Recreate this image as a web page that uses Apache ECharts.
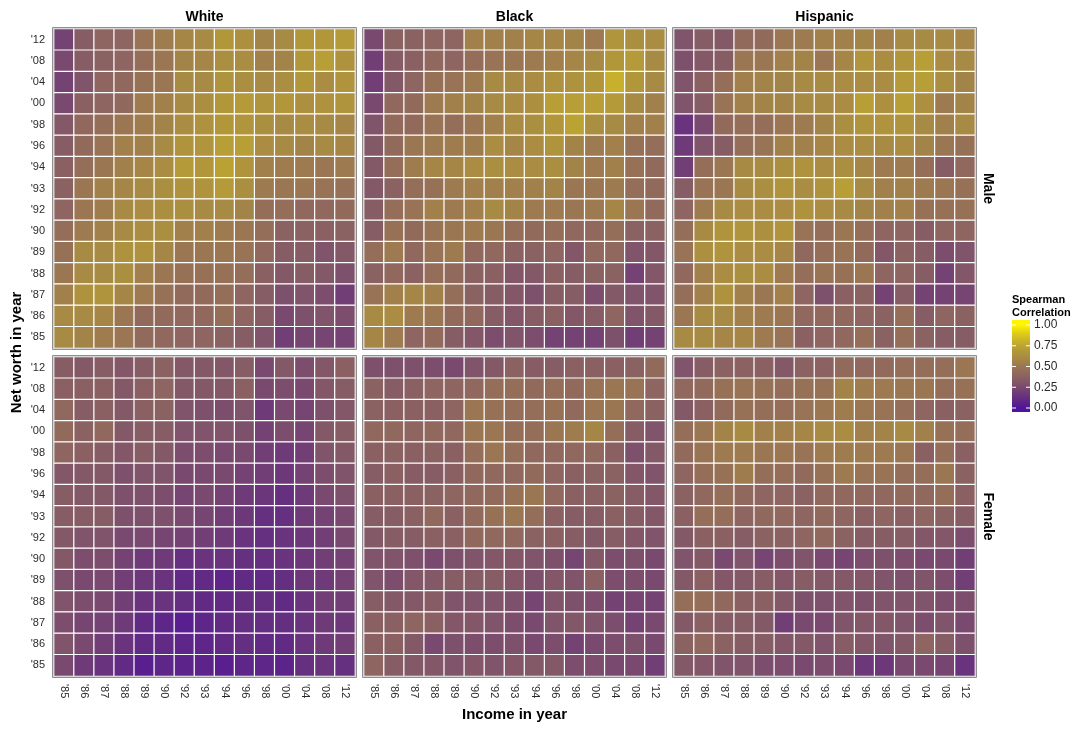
<!DOCTYPE html>
<html>
<head>
<meta charset="utf-8">
<script src="https://cdn.jsdelivr.net/npm/echarts@6/dist/echarts.min.js"></script>
<style>
  html, body { margin: 0; padding: 0; background: #fff; }
  #chart { width: 1081px; height: 729px; }
</style>
</head>
<body>
<div id="chart"></div>
<script>
// Survey years used on both axes (income year on x, net worth year on y)
const years = ["'85", "'86", "'87", "'88", "'89", "'90", "'92", "'93", "'94", "'96", "'98", "'00", "'04", "'08", "'12"];
const raceGroups = ["White", "Black", "Hispanic"];
const sexGroups = ["Male", "Female"];
const legendTicks = [0, 0.25, 0.5, 0.75, 1];

// Spearman correlations. Each matrix row is one net worth year,
// listed from '12 (top) down to '85 (bottom); columns run '85 -> '12 income year.
const whiteMale = [
  [0.22, 0.35, 0.40, 0.40, 0.48, 0.53, 0.58, 0.60, 0.68, 0.64, 0.57, 0.60, 0.68, 0.68, 0.70],
  [0.25, 0.35, 0.38, 0.40, 0.45, 0.50, 0.57, 0.58, 0.63, 0.62, 0.55, 0.57, 0.68, 0.72, 0.65],
  [0.22, 0.30, 0.40, 0.42, 0.47, 0.50, 0.60, 0.60, 0.66, 0.63, 0.60, 0.63, 0.68, 0.62, 0.66],
  [0.25, 0.37, 0.40, 0.42, 0.52, 0.55, 0.60, 0.63, 0.68, 0.70, 0.66, 0.68, 0.64, 0.65, 0.66],
  [0.33, 0.42, 0.45, 0.50, 0.53, 0.57, 0.62, 0.65, 0.68, 0.67, 0.63, 0.60, 0.62, 0.60, 0.58],
  [0.35, 0.43, 0.48, 0.55, 0.55, 0.60, 0.66, 0.67, 0.72, 0.72, 0.62, 0.60, 0.57, 0.60, 0.58],
  [0.37, 0.45, 0.50, 0.55, 0.58, 0.62, 0.70, 0.68, 0.73, 0.66, 0.55, 0.53, 0.52, 0.50, 0.52],
  [0.38, 0.50, 0.55, 0.58, 0.60, 0.63, 0.65, 0.66, 0.70, 0.63, 0.52, 0.50, 0.50, 0.48, 0.47],
  [0.40, 0.50, 0.53, 0.60, 0.62, 0.63, 0.63, 0.60, 0.60, 0.57, 0.45, 0.45, 0.42, 0.42, 0.43],
  [0.45, 0.52, 0.55, 0.60, 0.62, 0.63, 0.55, 0.55, 0.52, 0.50, 0.45, 0.38, 0.38, 0.37, 0.38],
  [0.47, 0.60, 0.60, 0.65, 0.65, 0.58, 0.50, 0.50, 0.50, 0.48, 0.42, 0.35, 0.35, 0.30, 0.33],
  [0.50, 0.60, 0.60, 0.63, 0.55, 0.50, 0.47, 0.47, 0.47, 0.45, 0.37, 0.33, 0.35, 0.33, 0.28],
  [0.55, 0.65, 0.66, 0.58, 0.52, 0.47, 0.43, 0.43, 0.45, 0.40, 0.35, 0.28, 0.30, 0.27, 0.20],
  [0.60, 0.60, 0.58, 0.50, 0.43, 0.43, 0.42, 0.42, 0.45, 0.40, 0.35, 0.25, 0.28, 0.30, 0.27],
  [0.60, 0.57, 0.53, 0.50, 0.43, 0.42, 0.40, 0.40, 0.38, 0.35, 0.30, 0.20, 0.23, 0.23, 0.22]
];

const blackMale = [
  [0.25, 0.38, 0.38, 0.40, 0.40, 0.55, 0.55, 0.55, 0.58, 0.58, 0.57, 0.52, 0.67, 0.63, 0.62],
  [0.20, 0.35, 0.37, 0.42, 0.40, 0.45, 0.48, 0.50, 0.52, 0.55, 0.58, 0.60, 0.68, 0.70, 0.60],
  [0.20, 0.33, 0.40, 0.47, 0.48, 0.52, 0.60, 0.60, 0.62, 0.65, 0.65, 0.68, 0.80, 0.68, 0.60],
  [0.25, 0.42, 0.43, 0.52, 0.55, 0.57, 0.60, 0.62, 0.64, 0.72, 0.72, 0.72, 0.70, 0.60, 0.55],
  [0.30, 0.43, 0.43, 0.48, 0.45, 0.50, 0.55, 0.62, 0.63, 0.68, 0.74, 0.63, 0.60, 0.55, 0.55],
  [0.33, 0.43, 0.50, 0.52, 0.53, 0.53, 0.62, 0.58, 0.62, 0.66, 0.57, 0.52, 0.55, 0.47, 0.45],
  [0.33, 0.45, 0.53, 0.58, 0.58, 0.62, 0.63, 0.62, 0.62, 0.63, 0.57, 0.52, 0.55, 0.47, 0.43],
  [0.33, 0.38, 0.45, 0.47, 0.52, 0.55, 0.55, 0.55, 0.55, 0.57, 0.50, 0.50, 0.52, 0.45, 0.43],
  [0.35, 0.45, 0.48, 0.55, 0.52, 0.55, 0.60, 0.57, 0.52, 0.52, 0.50, 0.52, 0.58, 0.50, 0.43],
  [0.35, 0.47, 0.43, 0.48, 0.50, 0.52, 0.50, 0.45, 0.43, 0.45, 0.42, 0.42, 0.45, 0.38, 0.38],
  [0.45, 0.52, 0.42, 0.48, 0.52, 0.42, 0.42, 0.38, 0.38, 0.40, 0.32, 0.42, 0.42, 0.30, 0.32],
  [0.38, 0.42, 0.38, 0.45, 0.43, 0.38, 0.37, 0.32, 0.33, 0.37, 0.35, 0.38, 0.38, 0.22, 0.32],
  [0.48, 0.55, 0.58, 0.55, 0.45, 0.38, 0.35, 0.32, 0.28, 0.35, 0.35, 0.27, 0.33, 0.30, 0.30],
  [0.60, 0.62, 0.52, 0.50, 0.43, 0.42, 0.35, 0.32, 0.35, 0.37, 0.32, 0.35, 0.40, 0.30, 0.33],
  [0.58, 0.52, 0.40, 0.43, 0.35, 0.32, 0.27, 0.30, 0.27, 0.22, 0.22, 0.22, 0.28, 0.20, 0.22]
];

const hispanicMale = [
  [0.30, 0.35, 0.33, 0.43, 0.43, 0.50, 0.52, 0.55, 0.55, 0.57, 0.55, 0.60, 0.60, 0.60, 0.58],
  [0.28, 0.33, 0.35, 0.50, 0.50, 0.55, 0.57, 0.50, 0.58, 0.67, 0.62, 0.67, 0.72, 0.62, 0.60],
  [0.30, 0.37, 0.45, 0.55, 0.57, 0.57, 0.60, 0.60, 0.62, 0.62, 0.62, 0.70, 0.72, 0.63, 0.57],
  [0.30, 0.35, 0.48, 0.55, 0.57, 0.57, 0.60, 0.60, 0.62, 0.72, 0.64, 0.72, 0.64, 0.52, 0.57],
  [0.15, 0.25, 0.43, 0.45, 0.45, 0.50, 0.52, 0.57, 0.63, 0.66, 0.66, 0.66, 0.60, 0.55, 0.60],
  [0.18, 0.30, 0.35, 0.45, 0.48, 0.55, 0.55, 0.58, 0.62, 0.62, 0.60, 0.62, 0.57, 0.50, 0.47],
  [0.20, 0.45, 0.50, 0.60, 0.60, 0.63, 0.65, 0.62, 0.63, 0.58, 0.52, 0.52, 0.45, 0.35, 0.42],
  [0.35, 0.48, 0.50, 0.60, 0.63, 0.66, 0.62, 0.65, 0.72, 0.60, 0.55, 0.55, 0.52, 0.50, 0.47],
  [0.40, 0.52, 0.60, 0.62, 0.62, 0.62, 0.65, 0.62, 0.60, 0.57, 0.55, 0.55, 0.47, 0.47, 0.47],
  [0.45, 0.60, 0.66, 0.66, 0.64, 0.66, 0.48, 0.45, 0.50, 0.45, 0.40, 0.40, 0.35, 0.40, 0.40],
  [0.48, 0.64, 0.66, 0.62, 0.62, 0.58, 0.42, 0.45, 0.48, 0.43, 0.32, 0.38, 0.35, 0.27, 0.30],
  [0.42, 0.55, 0.62, 0.63, 0.62, 0.52, 0.45, 0.48, 0.47, 0.50, 0.40, 0.40, 0.35, 0.22, 0.32],
  [0.45, 0.55, 0.65, 0.55, 0.50, 0.55, 0.40, 0.28, 0.37, 0.38, 0.22, 0.35, 0.22, 0.22, 0.23],
  [0.50, 0.60, 0.60, 0.55, 0.52, 0.50, 0.42, 0.42, 0.42, 0.40, 0.38, 0.45, 0.35, 0.40, 0.38],
  [0.60, 0.60, 0.58, 0.58, 0.52, 0.48, 0.37, 0.40, 0.42, 0.45, 0.38, 0.45, 0.38, 0.35, 0.35]
];

const whiteFemale = [
  [0.35, 0.33, 0.35, 0.32, 0.35, 0.38, 0.33, 0.33, 0.32, 0.35, 0.25, 0.33, 0.27, 0.32, 0.37],
  [0.37, 0.37, 0.37, 0.33, 0.37, 0.40, 0.33, 0.33, 0.33, 0.37, 0.25, 0.27, 0.25, 0.32, 0.35],
  [0.42, 0.35, 0.37, 0.33, 0.37, 0.38, 0.30, 0.28, 0.27, 0.30, 0.18, 0.25, 0.23, 0.28, 0.32],
  [0.43, 0.38, 0.42, 0.33, 0.35, 0.35, 0.30, 0.30, 0.30, 0.28, 0.22, 0.27, 0.23, 0.33, 0.35],
  [0.40, 0.37, 0.35, 0.32, 0.35, 0.33, 0.27, 0.27, 0.25, 0.25, 0.20, 0.18, 0.20, 0.30, 0.33],
  [0.32, 0.33, 0.33, 0.28, 0.30, 0.30, 0.25, 0.25, 0.25, 0.22, 0.20, 0.17, 0.22, 0.27, 0.30],
  [0.35, 0.33, 0.33, 0.28, 0.28, 0.27, 0.23, 0.25, 0.22, 0.18, 0.16, 0.13, 0.18, 0.25, 0.28],
  [0.35, 0.35, 0.35, 0.28, 0.28, 0.28, 0.25, 0.23, 0.20, 0.17, 0.13, 0.13, 0.18, 0.22, 0.25],
  [0.33, 0.30, 0.30, 0.25, 0.25, 0.23, 0.22, 0.20, 0.18, 0.15, 0.13, 0.15, 0.17, 0.20, 0.25],
  [0.33, 0.27, 0.27, 0.22, 0.18, 0.18, 0.13, 0.15, 0.15, 0.13, 0.13, 0.15, 0.17, 0.20, 0.22],
  [0.28, 0.25, 0.25, 0.20, 0.17, 0.15, 0.10, 0.10, 0.08, 0.10, 0.10, 0.12, 0.17, 0.18, 0.22],
  [0.30, 0.27, 0.25, 0.20, 0.15, 0.15, 0.12, 0.10, 0.10, 0.12, 0.12, 0.10, 0.15, 0.20, 0.20],
  [0.27, 0.23, 0.22, 0.18, 0.10, 0.08, 0.05, 0.08, 0.10, 0.12, 0.12, 0.12, 0.15, 0.18, 0.17],
  [0.30, 0.25, 0.20, 0.15, 0.10, 0.10, 0.08, 0.08, 0.10, 0.12, 0.10, 0.10, 0.15, 0.18, 0.20],
  [0.25, 0.18, 0.15, 0.10, 0.05, 0.08, 0.07, 0.07, 0.05, 0.08, 0.08, 0.07, 0.13, 0.15, 0.13]
];

const blackFemale = [
  [0.28, 0.28, 0.28, 0.27, 0.25, 0.30, 0.33, 0.38, 0.35, 0.35, 0.37, 0.37, 0.37, 0.38, 0.43],
  [0.38, 0.35, 0.37, 0.40, 0.40, 0.42, 0.45, 0.45, 0.43, 0.45, 0.43, 0.48, 0.50, 0.48, 0.40],
  [0.38, 0.37, 0.37, 0.37, 0.40, 0.50, 0.47, 0.45, 0.45, 0.47, 0.43, 0.50, 0.50, 0.42, 0.38],
  [0.42, 0.42, 0.40, 0.42, 0.42, 0.50, 0.50, 0.45, 0.45, 0.50, 0.53, 0.58, 0.45, 0.35, 0.30],
  [0.37, 0.38, 0.37, 0.38, 0.37, 0.45, 0.50, 0.45, 0.42, 0.42, 0.42, 0.42, 0.37, 0.28, 0.33],
  [0.35, 0.37, 0.35, 0.35, 0.37, 0.42, 0.42, 0.42, 0.43, 0.40, 0.37, 0.38, 0.38, 0.32, 0.30],
  [0.37, 0.37, 0.37, 0.38, 0.40, 0.42, 0.43, 0.47, 0.50, 0.42, 0.37, 0.37, 0.38, 0.35, 0.32],
  [0.35, 0.35, 0.37, 0.42, 0.37, 0.43, 0.47, 0.50, 0.45, 0.37, 0.35, 0.35, 0.37, 0.35, 0.32],
  [0.33, 0.35, 0.35, 0.37, 0.37, 0.42, 0.42, 0.42, 0.38, 0.37, 0.35, 0.33, 0.35, 0.32, 0.30],
  [0.30, 0.30, 0.28, 0.25, 0.28, 0.30, 0.32, 0.32, 0.30, 0.28, 0.23, 0.33, 0.27, 0.28, 0.25],
  [0.30, 0.27, 0.32, 0.33, 0.35, 0.35, 0.35, 0.32, 0.28, 0.32, 0.30, 0.37, 0.27, 0.27, 0.25],
  [0.35, 0.33, 0.33, 0.35, 0.30, 0.30, 0.30, 0.28, 0.23, 0.30, 0.28, 0.27, 0.22, 0.23, 0.22],
  [0.37, 0.37, 0.40, 0.37, 0.32, 0.32, 0.30, 0.27, 0.25, 0.30, 0.32, 0.30, 0.27, 0.22, 0.25],
  [0.37, 0.37, 0.33, 0.25, 0.28, 0.27, 0.27, 0.28, 0.25, 0.27, 0.22, 0.25, 0.27, 0.28, 0.25],
  [0.40, 0.35, 0.33, 0.32, 0.30, 0.32, 0.30, 0.32, 0.33, 0.33, 0.27, 0.27, 0.25, 0.25, 0.20]
];

const hispanicFemale = [
  [0.30, 0.35, 0.38, 0.38, 0.37, 0.33, 0.38, 0.38, 0.43, 0.42, 0.43, 0.45, 0.45, 0.45, 0.50],
  [0.42, 0.43, 0.47, 0.48, 0.47, 0.45, 0.47, 0.47, 0.57, 0.53, 0.52, 0.50, 0.50, 0.45, 0.47],
  [0.33, 0.37, 0.43, 0.47, 0.45, 0.45, 0.48, 0.50, 0.53, 0.50, 0.48, 0.45, 0.40, 0.37, 0.38],
  [0.45, 0.50, 0.57, 0.60, 0.55, 0.55, 0.58, 0.60, 0.62, 0.55, 0.57, 0.60, 0.55, 0.47, 0.45],
  [0.43, 0.48, 0.52, 0.52, 0.50, 0.50, 0.48, 0.52, 0.53, 0.52, 0.52, 0.50, 0.37, 0.45, 0.37],
  [0.40, 0.45, 0.47, 0.53, 0.45, 0.45, 0.43, 0.47, 0.52, 0.48, 0.48, 0.45, 0.45, 0.50, 0.38],
  [0.38, 0.42, 0.45, 0.42, 0.40, 0.40, 0.38, 0.42, 0.42, 0.42, 0.42, 0.43, 0.42, 0.45, 0.37],
  [0.37, 0.45, 0.45, 0.40, 0.42, 0.42, 0.40, 0.42, 0.40, 0.37, 0.40, 0.37, 0.40, 0.38, 0.35],
  [0.33, 0.37, 0.37, 0.35, 0.38, 0.38, 0.40, 0.42, 0.38, 0.35, 0.35, 0.35, 0.32, 0.32, 0.27],
  [0.30, 0.33, 0.25, 0.30, 0.23, 0.27, 0.30, 0.25, 0.23, 0.27, 0.28, 0.27, 0.25, 0.25, 0.20],
  [0.33, 0.37, 0.32, 0.33, 0.35, 0.32, 0.35, 0.33, 0.33, 0.32, 0.30, 0.28, 0.30, 0.27, 0.20],
  [0.45, 0.45, 0.42, 0.37, 0.37, 0.33, 0.28, 0.28, 0.30, 0.28, 0.30, 0.30, 0.30, 0.27, 0.27],
  [0.33, 0.37, 0.35, 0.35, 0.33, 0.20, 0.25, 0.25, 0.30, 0.32, 0.32, 0.30, 0.27, 0.30, 0.25],
  [0.38, 0.42, 0.38, 0.35, 0.35, 0.32, 0.33, 0.30, 0.35, 0.32, 0.30, 0.33, 0.40, 0.35, 0.28],
  [0.33, 0.32, 0.30, 0.30, 0.27, 0.27, 0.25, 0.27, 0.25, 0.17, 0.17, 0.25, 0.25, 0.23, 0.15]
];

// Panel matrices in facet order: rows = sex, columns = race
const panelData = [
  [whiteMale, blackMale, hispanicMale],
  [whiteFemale, blackFemale, hispanicFemale]
];

// Purple -> brown -> yellow fill scale, evenly spaced stops over [0, 1]
const fillStops = [
  '#50149a', '#612a84', '#713e75', '#80546a', '#8e6560',
  '#9b7652', '#a78a44', '#b49a38', '#c6b02c', '#e0cc18', '#fff500'
];

const FONT = '"Liberation Sans", Arial, Helvetica, sans-serif';

// Facet layout (pixels)
const panelLeft = 52, panelTop = 27, panelW = 305, panelH = 323, gapX = 5, gapY = 5, inset = 2;

const grids = [], xAxes = [], yAxes = [], series = [], graphics = [];

sexGroups.forEach(function (sex, r) {
  raceGroups.forEach(function (race, c) {
    const idx = r * raceGroups.length + c;
    const px = panelLeft + c * (panelW + gapX);
    const py = panelTop + r * (panelH + gapY);

    grids.push({
      left: px + inset, top: py + inset,
      width: panelW - 2 * inset, height: panelH - 2 * inset,
      containLabel: false
    });

    xAxes.push({
      type: 'category', gridIndex: idx, data: years,
      axisLine: { show: false }, axisTick: { show: false }, splitLine: { show: false },
      axisLabel: {
        show: r === sexGroups.length - 1, rotate: -90, margin: 8,
        fontFamily: FONT, fontSize: 11, color: '#2b2b2b', interval: 0
      }
    });
    yAxes.push({
      type: 'category', gridIndex: idx, data: years,
      axisLine: { show: false }, axisTick: { show: false }, splitLine: { show: false },
      axisLabel: {
        show: c === 0, margin: 9,
        fontFamily: FONT, fontSize: 11, color: '#2b2b2b', interval: 0
      }
    });

    const matrix = panelData[r][c];
    const cells = [];
    matrix.forEach(function (row, ri) {
      const yi = years.length - 1 - ri;
      row.forEach(function (v, xi) { cells.push([xi, yi, v]); });
    });

    series.push({
      type: 'heatmap', name: race + ' ' + sex,
      xAxisIndex: idx, yAxisIndex: idx, data: cells,
      itemStyle: { borderColor: '#ffffff', borderWidth: 1.2 },
      emphasis: { disabled: true }
    });

    // Panel frame
    graphics.push({
      type: 'rect', silent: true, z: 10,
      shape: { x: px + 0.5, y: py + 0.5, width: panelW - 1, height: panelH - 1 },
      style: { fill: 'none', stroke: '#8f8f8f', lineWidth: 1 }
    });
    graphics.push({
      type: 'rect', silent: true, z: 10,
      shape: { x: px + 1.5, y: py + 1.5, width: panelW - 3, height: panelH - 3 },
      style: { fill: 'none', stroke: '#d6d6d6', lineWidth: 1 }
    });

    // Column strip labels
    if (r === 0) {
      graphics.push({
        type: 'text', silent: true,
        style: {
          x: px + panelW / 2, y: 17, text: race, align: 'center', verticalAlign: 'middle',
          font: 'bold 14px ' + FONT, fill: '#000'
        }
      });
    }
    // Row strip labels
    if (c === raceGroups.length - 1) {
      graphics.push({
        type: 'text', silent: true,
        x: px + panelW + 11, y: py + panelH / 2, rotation: -Math.PI / 2,
        style: {
          x: 0, y: 0, text: sex, align: 'center', verticalAlign: 'middle',
          font: 'bold 14px ' + FONT, fill: '#000'
        }
      });
    }
  });
});

// Axis titles
graphics.push({
  type: 'text', silent: true,
  style: {
    x: panelLeft + (3 * panelW + 2 * gapX) / 2, y: 715, text: 'Income in year',
    align: 'center', verticalAlign: 'middle', font: 'bold 15px ' + FONT, fill: '#000'
  }
});
graphics.push({
  type: 'text', silent: true,
  x: 17, y: panelTop + (2 * panelH + gapY) / 2, rotation: Math.PI / 2,
  style: {
    x: 0, y: 0, text: 'Net worth in year', align: 'center', verticalAlign: 'middle',
    font: 'bold 15px ' + FONT, fill: '#000'
  }
});

// Colour bar legend
const barX = 1012, barTop = 320, barW = 18, barH = 92;
const tickTop = 325, tickBottom = 408;
graphics.push({
  type: 'text', silent: true,
  style: {
    x: barX, y: 306, text: 'Spearman\nCorrelation', align: 'left', verticalAlign: 'middle',
    font: 'bold 11px ' + FONT, fill: '#000', lineHeight: 13
  }
});
const gradStops = fillStops.map(function (col, i) {
  const v = i / (fillStops.length - 1);
  const yPix = tickBottom - v * (tickBottom - tickTop);
  return { offset: Math.min(1, Math.max(0, (yPix - barTop) / barH)), color: col };
}).reverse();
graphics.push({
  type: 'rect', silent: true,
  shape: { x: barX, y: barTop, width: barW, height: barH },
  style: { fill: new echarts.graphic.LinearGradient(0, 0, 0, 1, gradStops) }
});
legendTicks.forEach(function (t) {
  const yPix = tickBottom - t * (tickBottom - tickTop);
  graphics.push({
    type: 'line', silent: true,
    shape: { x1: barX, y1: yPix, x2: barX + 4, y2: yPix },
    style: { stroke: '#ffffff', lineWidth: 1 }
  });
  graphics.push({
    type: 'line', silent: true,
    shape: { x1: barX + barW - 4, y1: yPix, x2: barX + barW, y2: yPix },
    style: { stroke: '#ffffff', lineWidth: 1 }
  });
  graphics.push({
    type: 'text', silent: true,
    style: {
      x: barX + barW + 4, y: yPix, text: t.toFixed(2), align: 'left', verticalAlign: 'middle',
      font: '12px ' + FONT, fill: '#2b2b2b'
    }
  });
});

const chart = echarts.init(document.getElementById('chart'), null, { renderer: 'canvas' });
chart.setOption({
  animation: false,
  backgroundColor: '#ffffff',
  grid: grids,
  xAxis: xAxes,
  yAxis: yAxes,
  visualMap: {
    type: 'continuous', show: false, min: 0, max: 1, dimension: 2,
    seriesIndex: series.map(function (s, i) { return i; }),
    inRange: { color: fillStops }
  },
  series: series,
  graphic: graphics
});
</script>
</body>
</html>
